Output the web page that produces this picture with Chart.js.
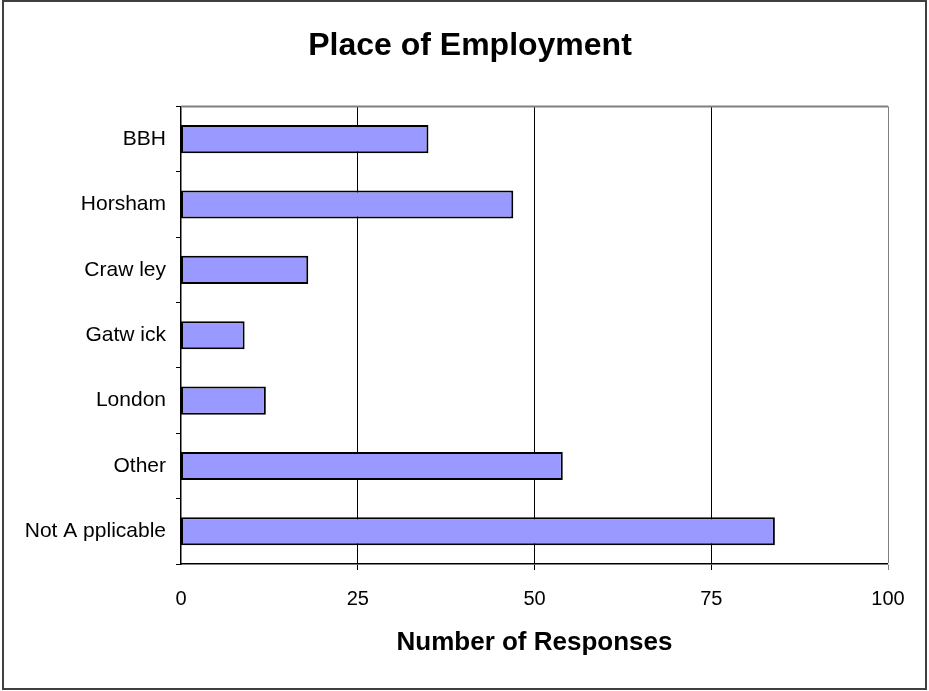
<!DOCTYPE html>
<html>
<head>
<meta charset="utf-8">
<script src="https://cdn.jsdelivr.net/npm/chart.js@4"></script>
<style>
  body { margin: 0; background: #fff; }
  canvas { display: block; }
</style>
</head>
<body>
<canvas id="myChart" width="929" height="691"></canvas>
<script>
// data
const categories = ["BBH", "Horsham", "Craw ley", "Gatw ick", "London", "Other", "Not A pplicable"];
const responses = [35, 47, 18, 9, 12, 54, 84];
const xTicks = [0, 25, 50, 75, 100];

const chartContainer = document.getElementById("myChart").getContext("2d");

Chart.defaults.font.family = "'Liberation Sans', Arial, sans-serif";
Chart.defaults.color = "#000";

// outer frame + grey plot border (top), title centred on the whole page
const frames = {
  id: "frames",
  afterLayout(chart) {
    if (chart.titleBlock) chart.titleBlock.right = chart.width;
  },
  beforeDatasetsDraw(chart) {
    const { ctx, chartArea } = chart;
    ctx.save();
    ctx.strokeStyle = "#808080";
    ctx.lineWidth = 2;
    ctx.beginPath();
    ctx.moveTo(chartArea.left, chartArea.top);
    ctx.lineTo(chartArea.right, chartArea.top);
    ctx.stroke();
    ctx.restore();
  },
  afterDraw(chart) {
    const { ctx } = chart;
    ctx.save();
    ctx.strokeStyle = "#404040";
    ctx.lineWidth = 2;
    ctx.strokeRect(3, 1, chart.width - 6, chart.height - 3);
    ctx.restore();
  },
};

const myChart = new Chart(chartContainer, {
  type: "bar",
  data: {
    labels: categories,
    datasets: [
      {
        label: "Number of Responses",
        data: responses,
        backgroundColor: "#9999FF",
        borderColor: "#000",
        borderWidth: 2,
        borderSkipped: false,
        barPercentage: 0.43,
        categoryPercentage: 1,
      },
    ],
  },
  options: {
    indexAxis: "y",
    responsive: false,
    animation: false,
    layout: { padding: { left: 11, right: 41, top: 0, bottom: 0 } },
    plugins: {
      legend: { display: false },
      tooltip: { enabled: false },
      title: {
        display: true,
        text: "Place of Employment",
        font: { size: 32, weight: "bold" },
        padding: { top: 27, bottom: 41 },
      },
    },
    scales: {
      x: {
        min: 0,
        max: 100,
        afterBuildTicks: (scale) => {
          scale.ticks = xTicks.map((v) => ({ value: v }));
        },
        afterFit: (scale) => {
          scale.height = 127;
        },
        ticks: { font: { size: 20 }, padding: 17 },
        grid: {
          color: (c) => (c.tick && c.tick.value === 100 ? "#808080" : "#000"),
          lineWidth: (c) => (c.tick && c.tick.value === 0 ? 0 : 1),
          tickLength: 6,
        },
        border: { color: "#000", width: 1.5 },
        title: {
          display: true,
          text: "Number of Responses",
          font: { size: 26, weight: "bold" },
          padding: { top: 0, bottom: 33 },
        },
      },
      y: {
        afterFit: (scale) => {
          scale.width = 170;
        },
        ticks: { font: { size: 21 }, padding: 10 },
        grid: {
          drawOnChartArea: false,
          color: "#000",
          tickLength: 5,
        },
        border: { color: "#000", width: 1.5 },
      },
    },
  },
  plugins: [frames],
});
</script>
</body>
</html>
